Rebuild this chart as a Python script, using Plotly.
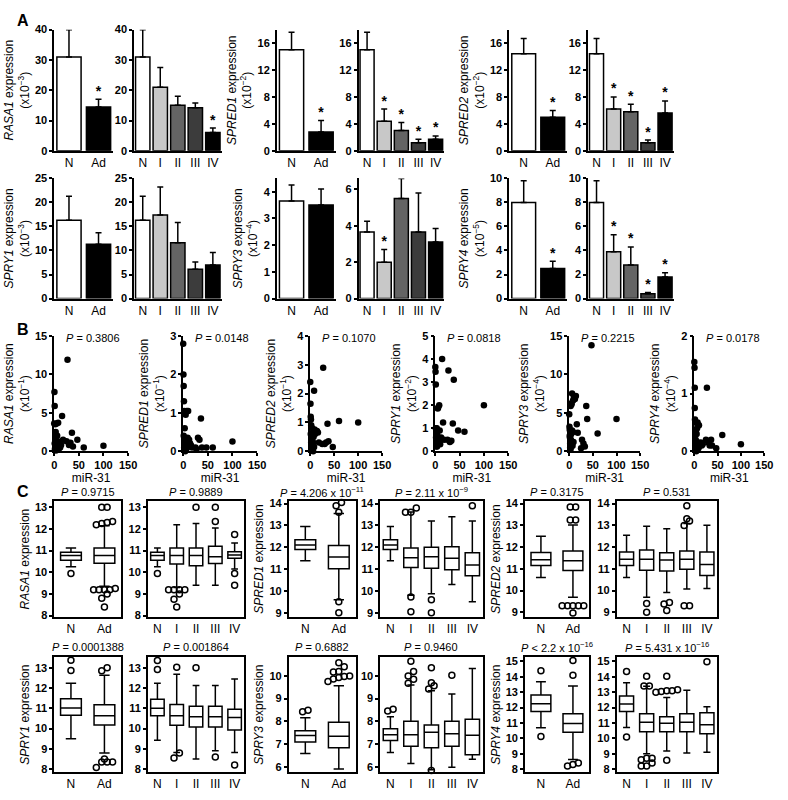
import plotly.graph_objects as go

W, H = 788, 800
FONT = "Liberation Sans, Arial, sans-serif"

genes = ["RASA1", "SPRED1", "SPRED2", "SPRY1", "SPRY3", "SPRY4"]
pair_labels = ["N", "Ad"]
stage_labels = ["N", "I", "II", "III", "IV"]
pair_colors = ["white", "black"]
stage_colors = ["white", "#c8c8c8", "#646464", "#3c3c3c", "black"]

# ---------------- panel A: qRT-PCR means, SEM, significance ----------------
a_exp = {"RASA1": -3, "SPRED1": -2, "SPRED2": -2, "SPRY1": -3, "SPRY3": -4, "SPRY4": -5}
a_pair_mean = {"RASA1": [31, 14.5], "SPRED1": [15, 2.8], "SPRED2": [14.4, 5.0],
               "SPRY1": [16.3, 11.3], "SPRY3": [3.65, 3.5], "SPRY4": [8.0, 2.5]}
a_pair_sem = {"RASA1": [9, 2.5], "SPRED1": [2.6, 1.7], "SPRED2": [2.3, 1.0],
              "SPRY1": [5.0, 2.4], "SPRY3": [0.6, 0.6], "SPRY4": [1.8, 0.6]}
a_pair_sig = {"RASA1": [0, 1], "SPRED1": [0, 1], "SPRED2": [0, 1],
              "SPRY1": [0, 0], "SPRY3": [0, 0], "SPRY4": [0, 1]}
a_stage_mean = {"RASA1": [31, 21, 15, 14.2, 6], "SPRED1": [15, 4.4, 3.0, 1.2, 1.7],
                "SPRED2": [14.4, 6.2, 5.8, 1.2, 5.6], "SPRY1": [16.3, 17.4, 11.6, 6.1, 7.0],
                "SPRY3": [3.65, 2.0, 5.5, 3.65, 3.1], "SPRY4": [8.0, 3.9, 2.8, 0.4, 1.8]}
a_stage_sem = {"RASA1": [9, 6.5, 3, 1.6, 1.5], "SPRED1": [2.6, 1.8, 1.2, 0.5, 0.5],
               "SPRED2": [2.3, 1.8, 1.1, 0.4, 1.8], "SPRY1": [5.0, 5.8, 4.2, 1.5, 2.6],
               "SPRY3": [0.6, 0.7, 1.1, 2.15, 0.75], "SPRY4": [1.8, 1.4, 1.5, 0.1, 0.35]}
a_stage_sig = {"RASA1": [0, 0, 0, 0, 1], "SPRED1": [0, 1, 1, 1, 1], "SPRED2": [0, 1, 1, 1, 1],
               "SPRY1": [0, 0, 0, 0, 0], "SPRY3": [0, 1, 0, 0, 0], "SPRY4": [0, 1, 1, 1, 1]}
a_pair_range = {"RASA1": (40, 10), "SPRED1": (18, 4), "SPRED2": (18, 4),
                "SPRY1": (25, 5), "SPRY3": (4.5, 1), "SPRY4": (10, 2)}
a_stage_range = {"RASA1": (40, 10), "SPRED1": (18, 4), "SPRED2": (18, 4),
                 "SPRY1": (25, 5), "SPRY3": (6.6, 2), "SPRY4": (10, 2)}

# ---------------- panel B: expression vs miR-31 ----------------
b_exp = {"RASA1": -1, "SPRED1": -1, "SPRED2": -1, "SPRY1": -2, "SPRY3": -4, "SPRY4": -4}
b_pval = {"RASA1": "0.3806", "SPRED1": "0.0148", "SPRED2": "0.1070",
          "SPRY1": "0.0818", "SPRY3": "0.2215", "SPRY4": "0.0178"}
b_range = {"RASA1": (15, 5), "SPRED1": (3, 1), "SPRED2": (4, 1),
           "SPRY1": (5, 1), "SPRY3": (15, 5), "SPRY4": (2, 1)}
mir31 = [0, 0.5, 1, 1, 1.5, 2, 2, 2.5, 3, 3, 3.5, 4, 4, 5, 5, 6, 6, 7, 8, 8, 9, 10,
         12, 14, 16, 18, 25, 27, 30, 33, 36, 38, 47, 60, 100]
b_expr = {
    "RASA1": [3.6, 7.7, 5.9, 1.0, 0.3, 3.5, 0.2, 1.8, 0.5, 2.5, 0.1, 1.2, 0.4, 3.6, 0.9, 2.0, 0.2,
              1.3, 0.6, 3.7, 0.3, 1.0, 0.5, 0.8, 4.6, 1.5, 1.3, 11.9, 0.8, 1.1, 2.4, 0.6, 1.5, 0.5, 0.7],
    "SPRED1": [2.8, 2.0, 1.7, 0.4, 1.3, 1.05, 0.1, 0.3, 0.05, 0.6, 0.15, 0.25, 0.0, 0.95, 0.1, 0.3,
               0.05, 1.05, 0.2, 0.1, 0.35, 1.05, 0.3, 0.2, 0.15, 0.1, 0.1, 0.05, 0.35, 0.3, 0.85,
               0.1, 0.1, 0.1, 0.25],
    "SPRED2": [2.4, 1.65, 1.2, 0.6, 1.1, 0.3, 0.9, 0.5, 0.05, 0.6, 0.2, 0.4, 0.8, 0.1, 0.6, 0.3,
               0.0, 0.5, 2.1, 0.15, 0.75, 0.6, 0.7, 0.7, 0.65, 0.3, 0.25, 2.9, 0.25, 0.3, 0.95,
               0.35, 0.15, 1.05, 1.0],
    "SPRY1": [3.65, 3.45, 2.9, 1.0, 0.6, 0.3, 0.2, 0.8, 0.4, 1.0, 0.2, 0.7, 0.3, 1.85, 0.9, 1.9,
              0.35, 0.5, 2.0, 0.4, 0.9, 0.3, 0.6, 4.0, 1.25, 0.5, 0.5, 3.5, 0.4, 0.45, 1.2, 3.1,
              0.9, 0.85, 2.0],
    "SPRY3": [4.8, 3.2, 2.8, 2.0, 1.8, 1.0, 0.5, 2.5, 5.9, 0.3, 1.5, 6.2, 2.2, 6.1, 0.8, 7.5, 2.7,
              0.7, 6.6, 2.5, 1.2, 7.0, 6.8, 7.2, 3.5, 2.4, 0.4, 1.5, 1.0, 0.6, 5.9, 4.2, 13.8,
              2.3, 4.2],
    "SPRY4": [1.55, 1.45, 1.1, 0.75, 0.55, 0.3, 0.1, 0.5, 0.05, 0.2, 0.35, 0.0, 0.15, 0.3, 0.05,
              0.4, 0.1, 0.5, 0.45, 0.15, 0.05, 0.45, 0.1, 0.15, 0.1, 0.12, 0.2, 1.1, 0.15, 0.1,
              0.2, 0.1, 0.05, 0.28, 0.12],
}

# ---------------- panel C: microarray box plots ----------------
c_pval_pair = {"RASA1": "= 0.9715", "SPRED1": "= 4.206 x 10<sup>−11</sup>", "SPRED2": "= 0.3175",
               "SPRY1": "= 0.0001388", "SPRY3": "= 0.6882", "SPRY4": "< 2.2 x 10<sup>−16</sup>"}
c_pval_stage = {"RASA1": "= 0.9889", "SPRED1": "= 2.11 x 10<sup>−9</sup>", "SPRED2": "= 0.531",
                "SPRY1": "= 0.001864", "SPRY3": "= 0.9460", "SPRY4": "= 5.431 x 10<sup>−16</sup>"}
c_range = {"RASA1": [7.95, 13.27], "SPRED1": [8.82, 14.1], "SPRED2": [8.8, 14.1],
           "SPRY1": [7.84, 13.53], "SPRY3": [5.75, 10.83], "SPRY4": [7.79, 15.28]}

c_pair_low = {"RASA1": [10.25, 9.35], "SPRED1": [11.38, 9.6], "SPRED2": [10.6, 9.69],
              "SPRY1": [9.5, 8.79], "SPRY3": [6.58, 5.9], "SPRY4": [10.69, 8.63]}
c_pair_q1 = {"RASA1": [10.55, 10.42], "SPRED1": [11.9, 11.02], "SPRED2": [11.15, 10.92],
             "SPRY1": [10.66, 10.18], "SPRY3": [7.09, 6.83], "SPRY4": [11.75, 10.39]}
c_pair_med = {"RASA1": [10.78, 10.78], "SPRED1": [12.1, 11.55], "SPRED2": [11.42, 11.37],
              "SPRY1": [11.02, 10.63], "SPRY3": [7.37, 7.34], "SPRY4": [12.24, 10.97]}
c_pair_q3 = {"RASA1": [10.92, 11.12], "SPRED1": [12.35, 12.08], "SPRED2": [11.75, 11.82],
             "SPRY1": [11.47, 11.18], "SPRY3": [7.58, 7.96], "SPRY4": [12.81, 11.6]}
c_pair_high = {"RASA1": [11.12, 12.15], "SPRED1": [12.95, 13.55], "SPRED2": [12.5, 13.02],
               "SPRY1": [12.24, 12.63], "SPRY3": [8.16, 9.57], "SPRY4": [13.68, 13.4]}
c_pair_out = {
    "RASA1": [[9.95], [13.0, 13.0, 12.35, 12.3, 12.25, 12.2, 9.25, 9.2, 9.2, 9.2, 9.2, 9.0, 8.8, 8.4]],
    "SPRED1": [[], [14.05, 13.9, 13.6, 9.5, 9.0]],
    "SPRED2": [[], [13.85, 13.85, 13.25, 13.25, 9.3, 9.3, 9.3, 9.3, 9.3, 8.97]],
    "SPRY1": [[13.37, 12.87], [13.0, 12.85, 8.5, 8.35, 8.35, 8.35, 8.08]],
    "SPRY3": [[8.49, 8.42], [10.58, 10.4, 10.2, 10.17, 10.0, 9.97, 9.93, 9.86, 9.75]],
    "SPRY4": [[14.4, 10.12], [15.06, 14.1, 8.4, 8.3, 8.2]],
}

c_stage_low = {"RASA1": [10.25, 9.3, 9.4, 9.4, 10.15], "SPRED1": [11.38, 9.8, 9.87, 10.3, 9.5],
               "SPRED2": [10.6, 9.69, 9.91, 10.07, 10.1], "SPRY1": [9.42, 8.82, 8.5, 8.9, 8.82],
               "SPRY3": [6.62, 6.14, 5.86, 5.97, 6.33], "SPRY4": [10.71, 9.0, 9.17, 9.04, 9.1]}
c_stage_q1 = {"RASA1": [10.55, 10.38, 10.3, 10.4, 10.65], "SPRED1": [11.9, 11.07, 11.04, 10.97, 10.7],
              "SPRED2": [11.16, 10.94, 10.9, 10.98, 10.7], "SPRY1": [10.63, 10.16, 10.08, 10.08, 9.93],
              "SPRY3": [7.15, 6.9, 6.83, 6.9, 6.52], "SPRY4": [11.75, 10.42, 10.42, 10.42, 10.29]}
c_stage_med = {"RASA1": [10.78, 10.78, 10.78, 10.72, 10.8], "SPRED1": [12.1, 11.52, 11.57, 11.5, 11.19],
               "SPRED2": [11.44, 11.44, 11.41, 11.44, 11.2], "SPRY1": [11.0, 10.63, 10.59, 10.59, 10.55],
               "SPRY3": [7.41, 7.41, 7.52, 7.45, 7.38], "SPRY4": [12.23, 11.04, 10.98, 11.04, 10.88]}
c_stage_q3 = {"RASA1": [10.92, 11.12, 11.12, 11.2, 10.95], "SPRED1": [12.35, 11.97, 12.0, 12.02, 11.75],
              "SPRED2": [11.77, 11.87, 11.74, 11.82, 11.77], "SPRY1": [11.45, 11.19, 11.1, 11.1, 10.95],
              "SPRY3": [7.67, 8.0, 7.84, 8.0, 8.09], "SPRY4": [12.75, 11.6, 11.4, 11.6, 11.67]}
c_stage_high = {"RASA1": [11.12, 12.2, 12.25, 12.05, 11.35], "SPRED1": [12.95, 13.62, 13.2, 13.4, 13.2],
                "SPRED2": [12.54, 12.96, 12.84, 13.09, 13.0], "SPRY1": [12.24, 12.68, 12.13, 12.13, 12.45],
                "SPRY3": [8.2, 9.6, 9.35, 9.2, 10.33], "SPRY4": [13.62, 13.38, 12.65, 13.13, 12.06]}
c_stage_out = {
    "RASA1": [[9.95], [9.2, 9.2, 9.2, 9.2, 9.0, 8.75, 8.4], [13.0], [13.0, 12.35], [11.75, 9.95, 9.4]],
    "SPRED1": [[], [13.8, 13.6, 13.6, 9.72, 9.05], [9.6, 9.0], [], [13.9]],
    "SPRED2": [[], [9.41, 9.0], [9.45, 9.38, 9.08], [13.9, 13.3, 13.2, 13.0, 9.3, 9.3], []],
    "SPRY1": [[13.36, 12.92], [13.03, 8.8, 8.55], [13.0], [8.6], [8.2]],
    "SPRY3": [[8.53, 8.45], [10.65, 10.2, 10.0, 9.85, 9.68], [10.36, 9.7, 9.57, 9.42, 5.83], [10.03], []],
    "SPRY4": [[14.35, 10.08], [14.04, 13.4, 13.4, 8.7, 8.7, 8.6, 8.4, 8.2, 8.2],
              [14.04, 13.15, 13.1, 13.1, 13.05, 13.0, 8.58], [], [14.98]],
}

# ---------------- pixel geometry ----------------
a_rows_y = [(24, 147), (175, 297)]
a_cols_x = [((52, 112), (133, 222)), ((278, 338), (361, 448)), ((514, 573), (594, 681))]
b_y = (335, 452)
b_cols_x = [(52, 127), (183, 258), (312, 385), (439, 513), (575, 647), (702, 773)]
c_rows_y = [(503, 620), (661, 778)]
c_cols_x = [((52, 120), (147, 245)), ((290, 358), (383, 487)), ((530, 595), (623, 725))]

fig = go.Figure()
axes_layout = {}
annotations = []
n_ax = 0


def add_axes(px, py, xaxis, yaxis):
    global n_ax
    n_ax += 1
    s = "" if n_ax == 1 else str(n_ax)
    axes_layout["xaxis" + s] = dict(domain=[px[0] / W, px[1] / W], anchor="y" + s, **xaxis)
    axes_layout["yaxis" + s] = dict(domain=[1 - py[1] / H, 1 - py[0] / H], anchor="x" + s, **yaxis)
    return "x" + s, "y" + s


def base_axis(**kw):
    d = dict(showline=True, linecolor="black", linewidth=1.5, showgrid=False, zeroline=False,
             ticks="outside", ticklen=3, tickwidth=1.5, tickcolor="black",
             tickfont=dict(family=FONT, size=11, color="black", weight="bold"))
    d.update(kw)
    return d


def gene_title(gene, exp=None):
    t = f"<i>{gene}</i> expression"
    if exp is not None:
        t += f"<br>(x10<sup>−{abs(exp)}</sup>)"
    return dict(text=t, font=dict(family=FONT, size=12, color="black"), standoff=3)


def cat_xaxis(labels, **kw):
    return base_axis(type="category", ticks="", range=[-0.5, len(labels) - 0.5],
                     tickfont=dict(family=FONT, size=12, color="black"), **kw)


# ---------------- draw A ----------------
for gi, gene in enumerate(genes):
    row, col = divmod(gi, 3)
    py = a_rows_y[row]
    sets = [(pair_labels, pair_colors, a_pair_mean, a_pair_sem, a_pair_sig, a_pair_range, True),
            (stage_labels, stage_colors, a_stage_mean, a_stage_sem, a_stage_sig, a_stage_range, False)]
    for k, (labels, colors, mean, sem, sig, rng, with_title) in enumerate(sets):
        ymax, dt = rng[gene]
        yk = base_axis(range=[0, ymax], dtick=dt)
        if with_title:
            yk["title"] = gene_title(gene, a_exp[gene])
        xa, ya = add_axes(a_cols_x[col][k], py, cat_xaxis(labels), yk)
        fig.add_trace(go.Bar(
            x=labels, y=mean[gene], width=0.82, xaxis=xa, yaxis=ya,
            marker=dict(color=colors, line=dict(color="black", width=1.5)),
            error_y=dict(type="data", symmetric=False, array=sem[gene],
                         arrayminus=[0] * len(labels), color="black", thickness=1.5, width=3),
            showlegend=False))
        star_x = [l for l, s in zip(labels, sig[gene]) if s]
        star_y = [m + e for m, e, s in zip(mean[gene], sem[gene], sig[gene]) if s]
        if star_x:
            fig.add_trace(go.Scatter(
                x=star_x, y=star_y, mode="text", text=["*"] * len(star_x),
                textposition="top center", xaxis=xa, yaxis=ya, cliponaxis=False,
                textfont=dict(family=FONT, size=14, color="black", weight="bold"),
                showlegend=False))

# ---------------- draw B ----------------
for gi, gene in enumerate(genes):
    ymax, dt = b_range[gene]
    xk = base_axis(range=[0, 150], dtick=50,
                   title=dict(text="miR-31", font=dict(family=FONT, size=12, color="black"), standoff=2))
    yk = base_axis(range=[0, ymax], dtick=dt, title=gene_title(gene, b_exp[gene]))
    xa, ya = add_axes(b_cols_x[gi], b_y, xk, yk)
    fig.add_trace(go.Scatter(
        x=mir31, y=b_expr[gene], mode="markers", xaxis=xa, yaxis=ya, cliponaxis=False,
        marker=dict(color="black", size=6.5), showlegend=False))
    annotations.append(dict(
        x=(b_cols_x[gi][0] + 10) / W, y=1 - (b_y[0] + 2) / H, xref="paper", yref="paper",
        xanchor="left", yanchor="middle", showarrow=False,
        text=f"<i>P</i> = {b_pval[gene]}", font=dict(family=FONT, size=11, color="black")))


# ---------------- draw C ----------------
def dodge(values, center, y_per_px, x_per_px):
    """spread overlapping outliers sideways"""
    xs, ys = [], []
    vals = sorted(values)
    groups = []
    for v in vals:
        if groups and v - groups[-1][0] < 6 * y_per_px:
            groups[-1].append(v)
        else:
            groups.append([v])
    for g in groups:
        n = len(g)
        for j, v in enumerate(g):
            xs.append(center + (j - (n - 1) / 2) * 5.5 * x_per_px)
            ys.append(v)
    return xs, ys


for gi, gene in enumerate(genes):
    row, col = divmod(gi, 3)
    py = c_rows_y[row]
    sets = [(pair_labels, c_pair_low, c_pair_q1, c_pair_med, c_pair_q3, c_pair_high, c_pair_out,
             c_pval_pair, True),
            (stage_labels, c_stage_low, c_stage_q1, c_stage_med, c_stage_q3, c_stage_high, c_stage_out,
             c_pval_stage, False)]
    for k, (labels, low, q1, med, q3, high, out, pv, with_title) in enumerate(sets):
        px = c_cols_x[col][k]
        n = len(labels)
        idx = list(range(n))
        xk = base_axis(range=[-0.5, n - 0.5], tickvals=idx, ticktext=labels, ticks="", mirror=True,
                       tickfont=dict(family=FONT, size=12, color="black"))
        yk = base_axis(range=c_range[gene], dtick=1, mirror=True)
        if with_title:
            yk["title"] = gene_title(gene)
        xa, ya = add_axes(px, py, xk, yk)
        fig.add_trace(go.Box(
            x=idx, q1=q1[gene], median=med[gene], q3=q3[gene],
            lowerfence=low[gene], upperfence=high[gene], xaxis=xa, yaxis=ya,
            fillcolor="white", line=dict(color="black", width=1.5), whiskerwidth=0.5,
            width=0.62 if n == 2 else 0.7, boxpoints=False, showlegend=False, hoverinfo="skip"))
        y_per_px = (c_range[gene][1] - c_range[gene][0]) / (py[1] - py[0])
        x_per_px = n / (px[1] - px[0])
        ox, oy = [], []
        for i, vals in enumerate(out[gene]):
            xs, ys = dodge(vals, i, y_per_px, x_per_px)
            ox += xs
            oy += ys
        fig.add_trace(go.Scatter(
            x=ox, y=oy, mode="markers", xaxis=xa, yaxis=ya, cliponaxis=False,
            marker=dict(symbol="circle-open", size=6, color="black", line=dict(width=1.5)),
            showlegend=False))
        annotations.append(dict(
            x=(px[0] + px[1]) / 2 / W, y=1 - (py[0] - 10) / H, xref="paper", yref="paper",
            xanchor="center", yanchor="middle", showarrow=False,
            text=f"<i>P</i> {pv[gene]}", font=dict(family=FONT, size=11, color="black")))

# panel letters
for letter, ly in [("A", 15), ("B", 328), ("C", 493)]:
    annotations.append(dict(x=12 / W, y=1 - ly / H, xref="paper", yref="paper", xanchor="left",
                            yanchor="middle", showarrow=False, text=f"<b>{letter}</b>",
                            font=dict(family=FONT, size=16, color="black")))

fig.update_layout(
    width=W, height=H, margin=dict(l=0, r=0, t=0, b=0),
    paper_bgcolor="white", plot_bgcolor="white",
    font=dict(family=FONT, color="black"),
    annotations=annotations, showlegend=False,
    **axes_layout)

# page body has a default 8px margin; drop it so the figure fills the window
fig.write_html("out.html", config={"displayModeBar": False},
               post_script="document.body.style.margin='0px';")
